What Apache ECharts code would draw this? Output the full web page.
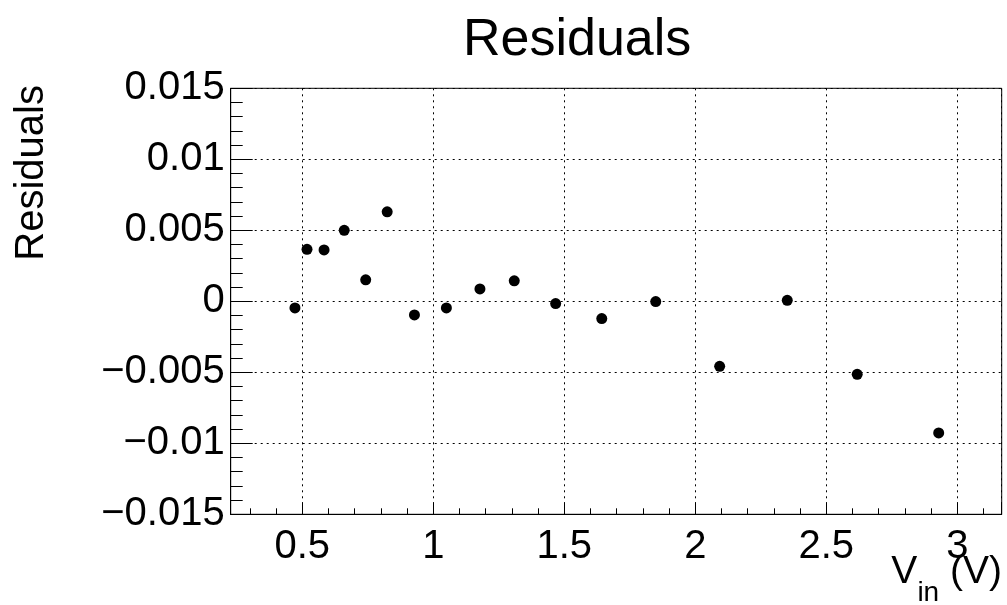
<!DOCTYPE html>
<html>
<head>
<meta charset="utf-8">
<script src="https://cdn.jsdelivr.net/npm/echarts@6/dist/echarts.min.js"></script>
<style>html,body{margin:0;padding:0;background:#fff;}#c{width:1007px;height:605px;}</style>
</head>
<body>
<div id="c"></div>
<script>
const titleText = 'Residuals';
const yTitle = 'Residuals';
const vin = [0.472, 0.518, 0.583, 0.660, 0.742, 0.824, 0.928, 1.050, 1.178, 1.309, 1.467, 1.643, 1.849, 2.093, 2.351, 2.618, 2.929];
const residuals = [-0.00047, 0.00366, 0.00362, 0.00500, 0.00151, 0.00630, -0.00096, -0.00047, 0.00087, 0.00144, -0.00016, -0.00122, -0.00002, -0.00458, 0.00007, -0.00514, -0.00927];
const xRange = [0.2267, 3.1695];
const yRange = [-0.015, 0.015];
const yStep = 0.005;

const FONT = '"Liberation Sans", Arial, Helvetica, sans-serif';
const chart = echarts.init(document.getElementById('c'), null, {renderer: 'canvas'});
const pts = vin.map((v, i) => [v, residuals[i]]);
const fmt = v => {
  const r = +(+v).toFixed(4);
  return (r === 0 ? '0' : String(r)).replace('-', '\u2212');
};
chart.setOption({
  animation: false,
  backgroundColor: '#fff',
  title: {
    text: titleText, left: 458, top: 10,
    textStyle: {fontFamily: FONT, fontSize: 52, fontWeight: 'normal', color: '#000'}
  },
  grid: {left: 230.7, right: 5.3, top: 88.3, bottom: 90.7, show: true, borderColor: '#000', borderWidth: 1, backgroundColor: 'transparent'},
  xAxis: {
    type: 'value', min: xRange[0], max: xRange[1], splitNumber: 5,
    axisLine: {show: true, onZero: false, lineStyle: {color: '#000', width: 1}},
    axisTick: {show: true, inside: true, length: 12, lineStyle: {color: '#000'}},
    minorTick: {show: true, splitNumber: 5, length: 6, lineStyle: {color: '#000'}},
    splitLine: {show: true, lineStyle: {color: '#000', width: 1, type: [2, 4]}},
    axisLabel: {showMinLabel: false, showMaxLabel: false, margin: 13, fontFamily: FONT, fontSize: 40, color: '#000', formatter: fmt}
  },
  yAxis: {
    type: 'value', min: yRange[0], max: yRange[1], interval: yStep,
    axisLine: {show: true, onZero: false, lineStyle: {color: '#000', width: 1}},
    axisTick: {show: true, inside: true, length: 22, lineStyle: {color: '#000'}},
    minorTick: {show: true, splitNumber: 5, length: 12, lineStyle: {color: '#000'}},
    splitLine: {show: true, lineStyle: {color: '#000', width: 1, type: [2, 4]}},
    axisLabel: {margin: 6, fontFamily: FONT, fontSize: 40, color: '#000', formatter: fmt}
  },
  graphic: [
    {
      type: 'text', x: 31.5, y: 85, rotation: Math.PI / 2,
      style: {text: yTitle, font: '40px ' + FONT, fill: '#000', align: 'right', verticalAlign: 'middle'}
    },
    {
      type: 'text', x: 1002, y: 552.5,
      style: {
        text: '{a|V}{b|in}{a| (V)}', align: 'right', verticalAlign: 'top', fill: '#000',
        rich: {
          a: {fontFamily: FONT, fontSize: 39, lineHeight: 39, verticalAlign: 'top', fill: '#000'},
          b: {fontFamily: FONT, fontSize: 28, lineHeight: 28, verticalAlign: 'top', padding: [27, 0, 0, 0], fill: '#000'}
        }
      }
    }
  ],
  series: [{
    type: 'scatter', data: pts, symbol: 'circle', symbolSize: 11,
    itemStyle: {color: '#000', opacity: 1}
  }]
});
</script>
</body>
</html>
